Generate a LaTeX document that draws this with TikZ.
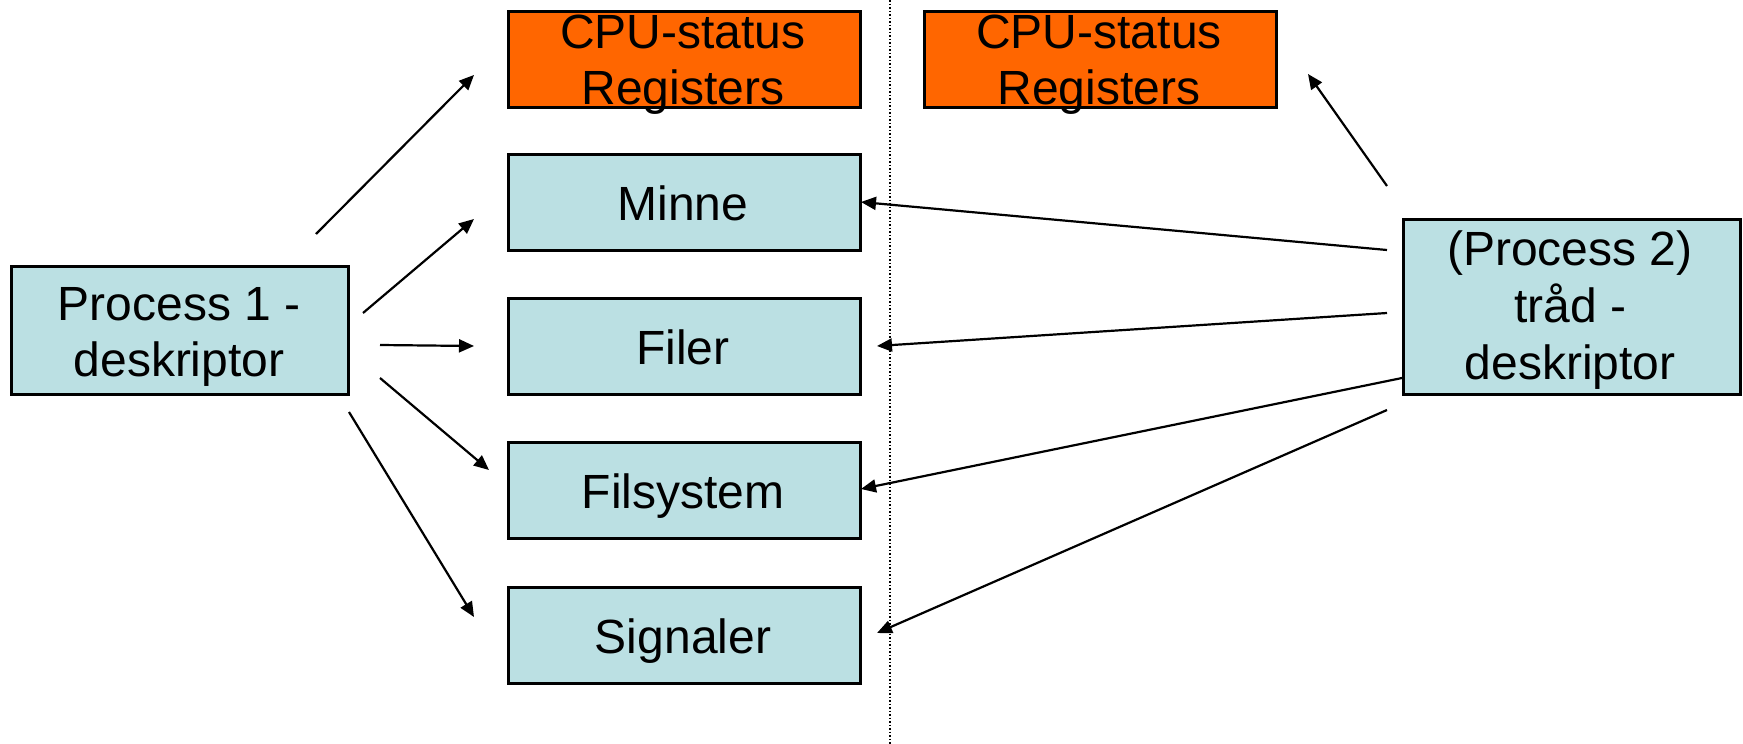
\documentclass[tikz,border=0pt]{standalone}
\usepackage{fontspec}
\setmainfont{Liberation Sans}
\usetikzlibrary{arrows.meta}
\definecolor{cpuorange}{HTML}{FF6600}
\definecolor{boxblue}{HTML}{BBE0E3}
\newcommand\boxlines[1]{\begin{tabular}[t]{@{}c@{}}#1\end{tabular}}
\tikzset{
  box/.style={draw=black, line width=2.5pt, fill=boxblue, minimum width=352pt, minimum height=96pt, inner sep=0pt, anchor=north west},
  cpubox/.style={box, fill=cpuorange},
  lbl/.style={font=\fontsize{48}{56}\selectfont, inner sep=0pt, anchor=base},
  conn/.style={line width=2.2pt, -{Triangle[length=15pt,width=13pt]}},
}
\begin{document}
\begin{tikzpicture}[x=1pt,y=-1pt]
\useasboundingbox (0,0) rectangle (1743,744);
% dotted separator
\draw[line width=1.5pt, dotted] (890,0) -- (890,744);
% boxes
\node[cpubox] (cpu1) at (507,10) {};
\node[cpubox] (cpu2) at (923,10) {};
\node[box] (minne) at (507,153) {};
\node[box] (filer) at (507,297) {};
\node[box] (filsys) at (507,441) {};
\node[box] (sig) at (507,586) {};
\node[box, minimum width=337pt, minimum height=128pt] (p1) at (10,265) {};
\node[box, minimum width=337pt, minimum height=175pt] (p2) at (1402,218) {};
% labels (placed at the baseline of their first line)
\node[lbl, font=\fontsize{48}{56}\selectfont] (cpu1t) at (683,48) {\boxlines{CPU-status\\Registers}};
\node[lbl, font=\fontsize{48}{56}\selectfont] (cpu2t) at (1099,48) {\boxlines{CPU-status\\Registers}};
\node[lbl] (minnet) at (683,220) {Minne};
\node[lbl] (filert) at (683,364) {Filer};
\node[lbl] (filsyst) at (683,508) {Filsystem};
\node[lbl] (sigt) at (683,653) {Signaler};
\node[lbl] (p1t) at (179,320) {\boxlines{Process 1 -\\deskriptor}};
\node[lbl, font=\fontsize{48}{57}\selectfont] (p2t) at (1570,265) {\boxlines{(Process 2)\\tråd -\\deskriptor}};
% connector endpoints
\coordinate (a1s) at (316,234); \coordinate (a1e) at (474,75);
\coordinate (a2s) at (363,313); \coordinate (a2e) at (474,219);
\coordinate (a3s) at (380,345); \coordinate (a3e) at (474,346);
\coordinate (a4s) at (380,378); \coordinate (a4e) at (489,470);
\coordinate (a5s) at (349,412); \coordinate (a5e) at (474,617);
\coordinate (b1s) at (1387,186); \coordinate (b1e) at (1308,74);
\coordinate (b2s) at (1387,250); \coordinate (b2e) at (861,202);
\coordinate (b3s) at (1387,313); \coordinate (b3e) at (877,346);
\coordinate (b4s) at (1402,378); \coordinate (b4e) at (861,489);
\coordinate (b5s) at (1387,410); \coordinate (b5e) at (877,633);
\draw[conn] (a1s) -- (a1e);
\draw[conn] (a2s) -- (a2e);
\draw[conn] (a3s) -- (a3e);
\draw[conn] (a4s) -- (a4e);
\draw[conn] (a5s) -- (a5e);
\draw[conn] (b1s) -- (b1e);
\draw[conn] (b2s) -- (b2e);
\draw[conn] (b3s) -- (b3e);
\draw[conn] (b4s) -- (b4e);
\draw[conn] (b5s) -- (b5e);
\end{tikzpicture}
\end{document}
